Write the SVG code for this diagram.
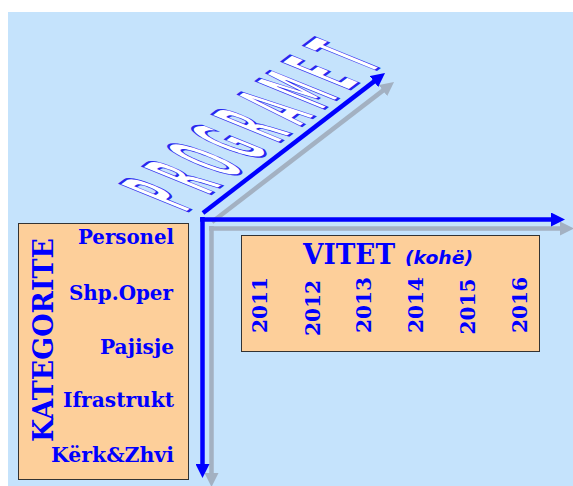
<svg xmlns="http://www.w3.org/2000/svg" width="573" height="486" viewBox="0 0 573 486">
<style>
.lbl{font-family:"DejaVu Serif","Liberation Serif",serif;font-weight:bold;fill:#0000FF}
.cat{font-size:20px;text-anchor:end}
.yr{font-size:21px;text-anchor:middle}
.box{fill:#FDCF9A;stroke:#333333;stroke-width:1}
.ax{fill:none;stroke:#0000FF;stroke-width:4.5}
.sh{fill:none;stroke:#A3B1C2;stroke-width:4.5}
.prog{font-family:"DejaVu Sans","Liberation Sans",sans-serif;font-weight:bold;font-size:40px;fill:#FFFFFF;stroke:#2828F0;stroke-width:1.1;text-anchor:middle;vector-effect:non-scaling-stroke}
</style>
<defs>
<marker id="hb" viewBox="0 0 14 14" markerWidth="14" markerHeight="14" refX="4" refY="7" orient="auto" markerUnits="userSpaceOnUse"><path d="M0,0 L14,7 L0,14 z" fill="#0000FF"/></marker>
<marker id="hg" viewBox="0 0 14 14" markerWidth="14" markerHeight="14" refX="4" refY="7" orient="auto" markerUnits="userSpaceOnUse"><path d="M0,0 L14,7 L0,14 z" fill="#A3B1C2"/></marker>
</defs>
<rect x="8" y="12" width="565" height="474" fill="#C5E3FC"/>
<g id="programet">
<text class="prog" transform="matrix(0.46 -0.346 2.34 0.95 186 213)"><tspan x="14.7" y="0">P</tspan><tspan x="64.9" y="0">R</tspan><tspan x="115.1" y="0">O</tspan><tspan x="165.3" y="0">G</tspan><tspan x="215.5" y="0">R</tspan><tspan x="265.7" y="0">A</tspan><tspan x="315.9" y="0">M</tspan><tspan x="366.1" y="0">E</tspan><tspan x="416.3" y="0">T</tspan></text>
</g>
<g id="connectors">
<g transform="translate(9,9)">
<path class="sh" d="M202.5,217 V468" marker-end="url(#hg)"/>
<path class="sh" d="M200,219.5 H555" marker-end="url(#hg)"/>
<path class="sh" d="M203,213 L377.1,79.1" marker-end="url(#hg)"/>
</g>
<path class="ax" d="M202.5,217 V468" marker-end="url(#hb)"/>
<path class="ax" d="M200,219.5 H555" marker-end="url(#hb)"/>
<path class="ax" d="M203,213 L377.1,79.1" marker-end="url(#hb)"/>
</g>
<g id="kategorite">
<rect class="box" x="18.5" y="223.5" width="170" height="256"/>
<text class="lbl" font-size="28" text-anchor="middle" transform="translate(53,340) rotate(-90)" textLength="204" lengthAdjust="spacingAndGlyphs">KATEGORITE</text>
<text class="lbl cat" x="174" y="244" textLength="96" lengthAdjust="spacingAndGlyphs">Personel</text>
<text class="lbl cat" x="173" y="299.5" textLength="104" lengthAdjust="spacingAndGlyphs">Shp.Oper</text>
<text class="lbl cat" x="174" y="354" textLength="74" lengthAdjust="spacingAndGlyphs">Pajisje</text>
<text class="lbl cat" x="174" y="407" textLength="111" lengthAdjust="spacingAndGlyphs">Ifrastrukt</text>
<text class="lbl cat" x="174" y="461.5" textLength="123" lengthAdjust="spacingAndGlyphs">Kërk&amp;Zhvi</text>
</g>
<g id="vitet">
<rect class="box" x="241.5" y="235.5" width="298" height="116"/>
<text class="lbl" x="303" y="264" font-size="27" textLength="92" lengthAdjust="spacingAndGlyphs">VITET</text>
<text x="405" y="264" font-family="DejaVu Sans, Verdana, sans-serif" font-weight="bold" font-style="italic" font-size="18" fill="#0000FF" textLength="68" lengthAdjust="spacingAndGlyphs">(kohë)</text>
<text class="lbl yr" transform="translate(267,305) rotate(-90)" textLength="56" lengthAdjust="spacingAndGlyphs">2011</text>
<text class="lbl yr" transform="translate(320,308) rotate(-90)" textLength="56" lengthAdjust="spacingAndGlyphs">2012</text>
<text class="lbl yr" transform="translate(371,305) rotate(-90)" textLength="56" lengthAdjust="spacingAndGlyphs">2013</text>
<text class="lbl yr" transform="translate(423,305) rotate(-90)" textLength="56" lengthAdjust="spacingAndGlyphs">2014</text>
<text class="lbl yr" transform="translate(475,306.5) rotate(-90)" textLength="56" lengthAdjust="spacingAndGlyphs">2015</text>
<text class="lbl yr" transform="translate(527,305) rotate(-90)" textLength="56" lengthAdjust="spacingAndGlyphs">2016</text>
</g>
</svg>
